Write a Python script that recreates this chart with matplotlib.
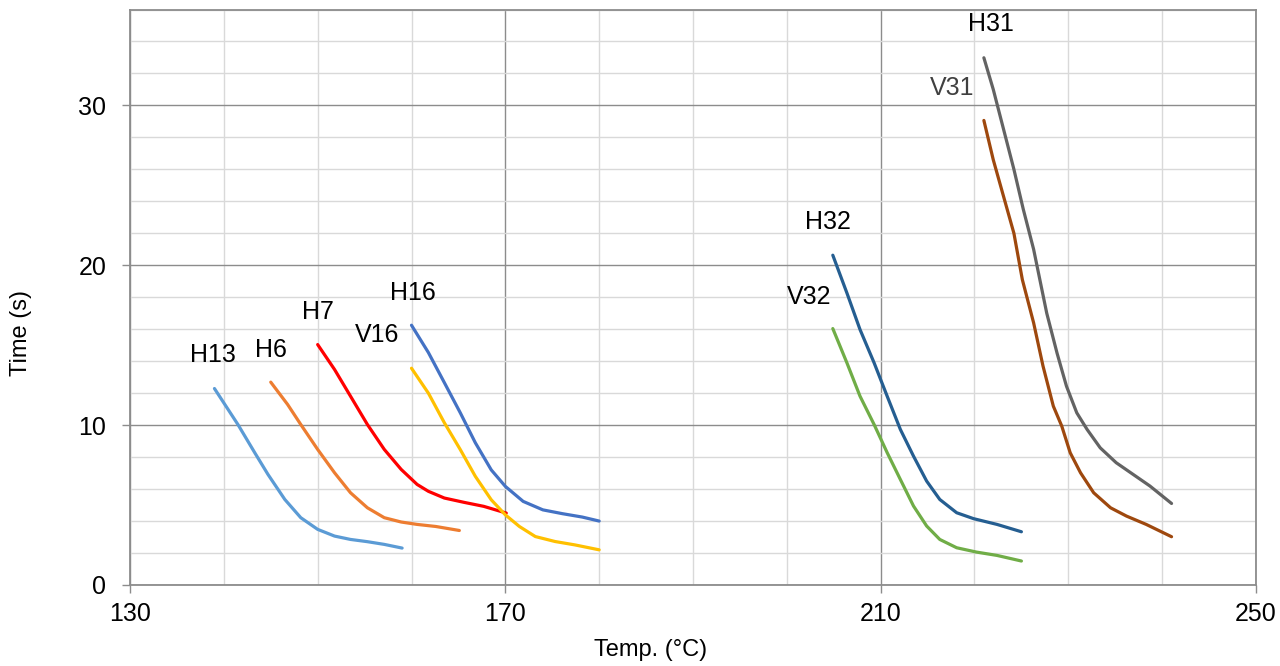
import matplotlib
matplotlib.use("Agg")
import matplotlib.pyplot as plt
from matplotlib.ticker import MultipleLocator, FixedLocator

plt.rcParams['font.family'] = ['Liberation Sans', 'DejaVu Sans']

# curves (temp in degC, time in s)
h13_t = [139.0, 141.5, 143.3, 144.7, 146.5, 148.2, 150.0, 151.8, 153.5, 155.3, 157.1, 159.0]
h13_s = [12.29, 10.04, 8.27, 6.92, 5.35, 4.21, 3.48, 3.06, 2.85, 2.71, 2.54, 2.31]

h6_t = [145.0, 146.8, 148.2, 150.0, 151.8, 153.5, 155.3, 157.1, 158.9, 160.6, 162.6, 165.1]
h6_s = [12.69, 11.29, 10.04, 8.48, 7.02, 5.77, 4.83, 4.21, 3.94, 3.79, 3.66, 3.41]

h7_t = [150.0, 151.8, 153.5, 155.3, 157.1, 158.9, 160.6, 161.8, 163.5, 165.6, 167.7, 170.1]
h7_s = [15.04, 13.48, 11.81, 10.04, 8.48, 7.23, 6.29, 5.86, 5.44, 5.17, 4.92, 4.5]

v16_t = [160.0, 161.8, 163.5, 165.2, 166.8, 168.5, 170.0, 171.5, 173.2, 175.3, 177.4, 180.0]
v16_s = [13.56, 12.0, 10.15, 8.47, 6.8, 5.33, 4.39, 3.66, 3.03, 2.72, 2.51, 2.2]

h16_t = [160.0, 161.8, 163.5, 165.2, 166.8, 168.5, 170.0, 171.9, 174.0, 176.1, 178.2, 180.0]
h16_s = [16.25, 14.54, 12.66, 10.77, 8.9, 7.2, 6.17, 5.23, 4.7, 4.46, 4.25, 4.0]

v32_t = [204.9, 206.4, 207.8, 209.3, 210.7, 212.1, 213.5, 214.9, 216.3, 218.1, 220.2, 222.4, 225.0]
v32_s = [16.04, 13.9, 11.81, 10.04, 8.27, 6.6, 4.94, 3.69, 2.85, 2.33, 2.06, 1.85, 1.5]

h32_t = [204.9, 206.4, 207.8, 209.3, 210.7, 212.1, 213.5, 214.9, 216.3, 218.1, 219.9, 222.4, 225.0]
h32_s = [20.63, 18.27, 15.98, 13.9, 11.8, 9.73, 8.06, 6.5, 5.35, 4.52, 4.15, 3.79, 3.33]

v31_t = [221.0, 222.0, 223.1, 224.2, 225.1, 226.3, 227.3, 228.4, 229.3, 230.2, 231.3, 232.7, 234.5, 236.2, 238.3, 241.0]
v31_s = [29.06, 26.6, 24.3, 22.0, 19.1, 16.4, 13.7, 11.19, 9.94, 8.27, 7.02, 5.77, 4.83, 4.31, 3.79, 3.02]

h31_t = [221.0, 222.0, 223.1, 224.2, 225.2, 226.3, 227.7, 228.8, 229.8, 230.9, 232.0, 233.4, 235.1, 236.9, 238.7, 241.0]
h31_s = [32.98, 31.0, 28.5, 26.0, 23.5, 21.0, 17.0, 14.5, 12.44, 10.77, 9.73, 8.58, 7.65, 6.92, 6.19, 5.1]

series = [
    (h13_t, h13_s, '#5B9BD5'),
    (h6_t, h6_s, '#ED7D31'),
    (h7_t, h7_s, '#FF0000'),
    (v16_t, v16_s, '#FFC000'),
    (h16_t, h16_s, '#4472C4'),
    (v32_t, v32_s, '#70AD47'),
    (h32_t, h32_s, '#255E91'),
    (v31_t, v31_s, '#9E480E'),
    (h31_t, h31_s, '#636363'),
]

# curve labels: text, temp, time, colour
labels = [
    ('H13', 138.85, 14.36, 'black'),
    ('H6', 145.0, 14.67, 'black'),
    ('H7', 150.0, 17.06, 'black'),
    ('V16', 156.3, 15.61, 'black'),
    ('H16', 160.1, 18.24, 'black'),
    ('H32', 204.4, 22.7, 'black'),
    ('V32', 202.4, 18.0, 'black'),
    ('H31', 221.8, 35.1, 'black'),
    ('V31', 217.6, 31.1, '#404040'),
]

x_ticks = [130, 170, 210, 250]

fig = plt.figure(figsize=(12.8, 6.66), dpi=100)
ax = fig.add_axes([130 / 1280, (666 - 585) / 666, (1256 - 130) / 1280, (585 - 9.5) / 666])

for t, s, c in series:
    ax.plot(t, s, color=c, lw=2.3, solid_capstyle='round', solid_joinstyle='round', zorder=3)

for txt, x, y, c in labels:
    ax.text(x, y, txt, color=c, fontsize=18, ha='center', va='center', zorder=4)

ax.set_xlim(130, 250)
ax.set_ylim(0, 36)
ax.xaxis.set_major_locator(FixedLocator(x_ticks))
ax.xaxis.set_minor_locator(MultipleLocator(10))
ax.yaxis.set_major_locator(MultipleLocator(10))
ax.yaxis.set_minor_locator(MultipleLocator(2))

ax.grid(which='major', color='#8c8c8c', lw=1.0, zorder=1)
ax.grid(which='minor', color='#d9d9d9', lw=1.0, zorder=0)
ax.set_axisbelow(True)

for sp in ax.spines.values():
    sp.set_color('#8c8c8c')
    sp.set_linewidth(1.3)

ax.tick_params(which='major', direction='out', length=6, width=1.0, color='#8c8c8c',
               labelsize=18)
ax.tick_params(axis='x', which='major', pad=6)
ax.tick_params(axis='y', which='major', pad=11)
ax.tick_params(which='minor', length=0)

fig.text(651 / 1280, 1 - 650 / 666, 'Temp. (°C)', fontsize=17, ha='center', va='center')
fig.text(21 / 1280, 1 - 333 / 666, 'Time (s)', fontsize=17, ha='center', va='center',
         rotation=90)

fig.savefig('out.png', dpi=100)
